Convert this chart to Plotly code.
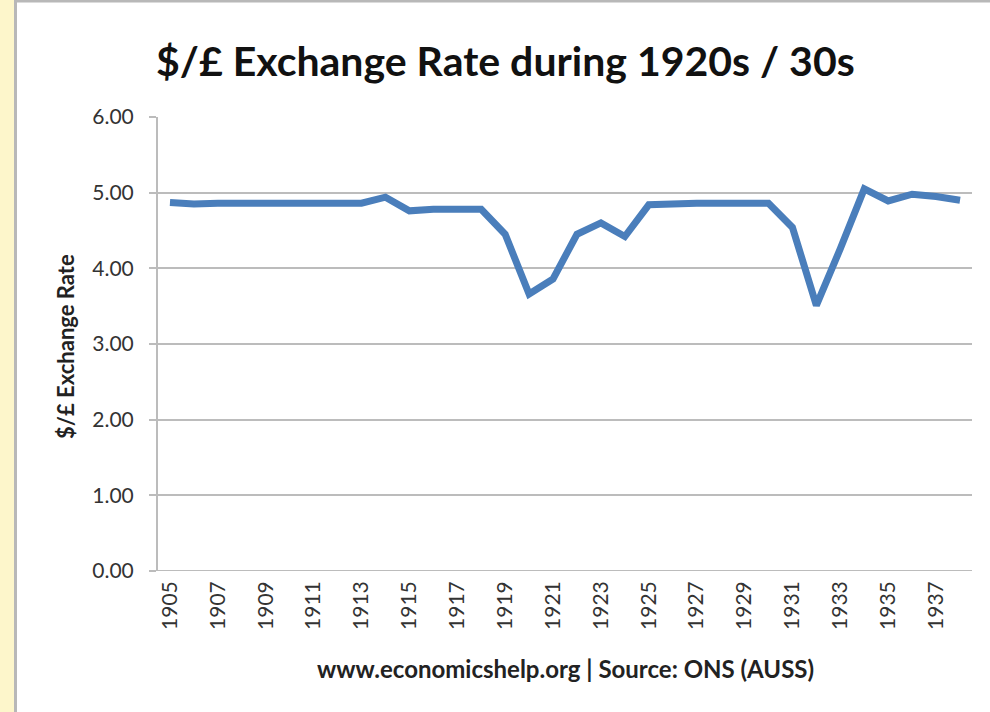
import plotly.graph_objects as go

years = list(range(1905, 1939))
rates = [4.87, 4.85, 4.86, 4.86, 4.88, 4.86, 4.86, 4.86, 4.86, 4.94,
         4.76, 4.78, 4.78, 4.78, 4.45, 3.66, 3.86, 4.45, 4.60, 4.42,
         4.84, 4.86, 4.86, 4.86, 4.86, 4.86, 4.54, 3.51, 4.26, 5.05,
         4.89, 4.98, 4.95, 4.90]
y_ticks = [0, 1, 2, 3, 4, 5, 6]
x_ticks = list(range(1905, 1939, 2))

title_text = "$/£ Exchange Rate during 1920s / 30s"
y_title = "$/£ Exchange Rate"
x_title = "www.economicshelp.org | Source: ONS (AUSS)"

font_fam = "Lato, 'Open Sans', sans-serif"

L, R, T, B = 158, 18, 117, 141
PW, PH = 990 - L - R, 712 - T - B


def px(x):
    return (x - L) / PW


def py(y):
    return (712 - B - y) / PH


fig = go.Figure()
fig.add_trace(go.Scatter(
    x=years, y=rates, mode="lines",
    line=dict(color="#4A7EBB", width=7),
    hoverinfo="x+y", showlegend=False,
))

fig.update_layout(
    width=990, height=712,
    margin=dict(l=L, r=R, t=T, b=B, autoexpand=False),
    paper_bgcolor="white", plot_bgcolor="white",
    font=dict(family=font_fam, color="#222222"),
    xaxis=dict(
        range=[1904.5, 1938.5], tickmode="array", tickvals=x_ticks,
        ticktext=[str(v) for v in x_ticks], tickangle=-90,
        showgrid=False, zeroline=False, showline=False, automargin=False,
        tickfont=dict(size=21, color="#333333"), ticks="",
        ticklabelstandoff=5,
    ),
    yaxis=dict(
        range=[0, 6], tickmode="array", tickvals=y_ticks,
        ticktext=[f"{v:.2f}" for v in y_ticks], automargin=False,
        showgrid=True, gridcolor="#BCBCBC", gridwidth=2,
        zeroline=False, showline=True, linecolor="#BCBCBC", linewidth=2,
        ticks="outside", ticklen=7, tickcolor="#BCBCBC", tickwidth=2,
        tickfont=dict(size=21, color="#333333"),
        ticklabelstandoff=11,
    ),
    annotations=[
        dict(text="<b>" + title_text + "</b>", xref="paper", yref="paper",
             x=px(505), y=py(60), xanchor="center", yanchor="middle",
             showarrow=False, font=dict(size=41, color="#111111")),
        dict(text="<b>" + y_title + "</b>", xref="paper", yref="paper",
             x=px(65), y=py(347), xanchor="center", yanchor="middle",
             textangle=-90, showarrow=False,
             font=dict(size=22, color="#222222")),
        dict(text="<b>" + x_title + "</b>", xref="paper", yref="paper",
             x=px(565), y=py(668), xanchor="center", yanchor="middle",
             showarrow=False, font=dict(size=24, color="#222222")),
    ],
)

# x-axis baseline
fig.add_shape(type="line", xref="paper", yref="y", x0=px(152), x1=1, y0=0, y1=0,
              line=dict(color="#BCBCBC", width=2), layer="below")

# page decoration: yellow strip on the left and grey frame lines
fig.add_shape(type="rect", xref="paper", yref="paper",
              x0=px(0), x1=px(14), y0=py(712), y1=py(0),
              fillcolor="#FDF6CB", line=dict(width=0), layer="below")
fig.add_shape(type="line", xref="paper", yref="paper",
              x0=px(15.5), x1=px(15.5), y0=py(712), y1=py(0),
              line=dict(color="#B8B8B8", width=3))
fig.add_shape(type="line", xref="paper", yref="paper",
              x0=px(14), x1=px(990), y0=py(1), y1=py(1),
              line=dict(color="#B8B8B8", width=3))

fig.write_html(
    "out.html",
    config={"displayModeBar": False},
    post_script="document.body.style.margin='0';document.body.style.overflow='hidden';",
)
